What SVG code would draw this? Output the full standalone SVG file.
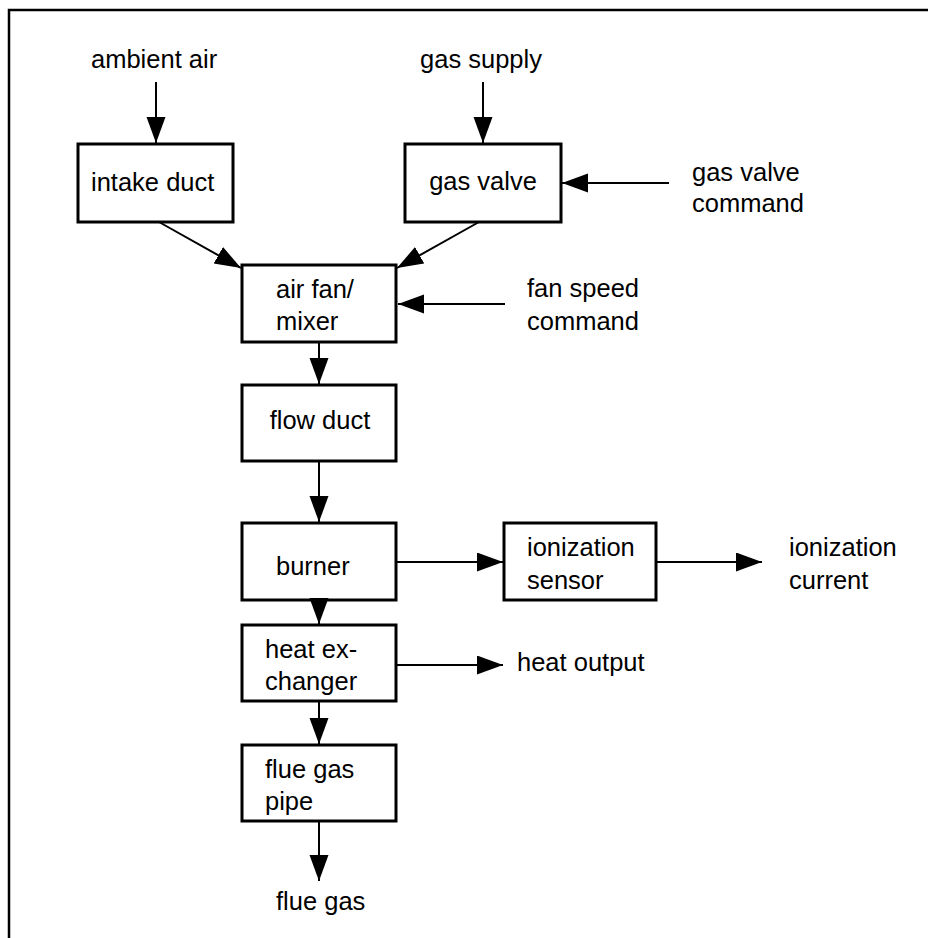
<svg xmlns="http://www.w3.org/2000/svg" width="928" height="938" viewBox="0 0 928 938">
<defs>
<marker id="ah" markerUnits="userSpaceOnUse" markerWidth="28" markerHeight="20" refX="26" refY="9.5" orient="auto">
<path d="M0,0 L26,9.5 L0,19 z" fill="#000"/>
</marker>
<style>
text{font-family:"Liberation Sans",Arial,sans-serif;font-size:25.5px;fill:#000}
.box{fill:#fff;stroke:#000;stroke-width:3}
.c{stroke:#000;stroke-width:2;fill:none;marker-end:url(#ah)}
.m{text-anchor:middle}
</style>
</defs>
<rect width="928" height="938" fill="#fff"/>
<path d="M9,938 V10 H928" fill="none" stroke="#000" stroke-width="2.5"/>
<g id="labels">
<text x="91" y="68">ambient air</text>
<text x="481" y="68" class="m">gas supply</text>
<text x="692" y="181">gas valve</text>
<text x="692" y="212">command</text>
<text x="527" y="297">fan speed</text>
<text x="527" y="330">command</text>
<text x="789" y="556">ionization</text>
<text x="789" y="589">current</text>
<text x="517" y="671">heat output</text>
<text x="276" y="910">flue gas</text>
</g>
<g id="intake-duct"><rect class="box" x="78" y="144" width="155" height="78"/><text x="91" y="191">intake duct</text></g>
<g id="gas-valve"><rect class="box" x="405" y="144" width="156" height="78"/><text x="483" y="190" class="m">gas valve</text></g>
<g id="air-fan-mixer"><rect class="box" x="242" y="265" width="154" height="77"/><text x="276" y="298">air fan/</text><text x="276" y="330">mixer</text></g>
<g id="flow-duct"><rect class="box" x="242" y="385" width="154" height="76"/><text x="320" y="429" class="m">flow duct</text></g>
<g id="burner"><rect class="box" x="242" y="523" width="154" height="77"/><text x="276" y="575">burner</text></g>
<g id="ionization-sensor"><rect class="box" x="504" y="523" width="152" height="77"/><text x="527" y="556">ionization</text><text x="527" y="589">sensor</text></g>
<g id="heat-exchanger"><rect class="box" x="242" y="625" width="154" height="76"/><text x="265" y="658">heat ex-</text><text x="265" y="690">changer</text></g>
<g id="flue-gas-pipe"><rect class="box" x="242" y="745" width="154" height="76"/><text x="265" y="778">flue gas</text><text x="265" y="810">pipe</text></g>
<g id="connectors">
<line class="c" x1="156" y1="82" x2="156" y2="143"/>
<line class="c" x1="483" y1="82" x2="483" y2="143"/>
<line class="c" x1="669" y1="183" x2="562" y2="183"/>
<line class="c" x1="159" y1="222" x2="241" y2="268"/>
<line class="c" x1="479" y1="222" x2="397" y2="268"/>
<line class="c" x1="505" y1="304" x2="398" y2="304"/>
<line class="c" x1="319" y1="342" x2="319" y2="384"/>
<line class="c" x1="319" y1="461" x2="319" y2="522"/>
<line class="c" x1="396" y1="562" x2="503" y2="562"/>
<line class="c" x1="656" y1="562" x2="762" y2="562"/>
<line class="c" x1="319" y1="600" x2="319" y2="624"/>
<line class="c" x1="396" y1="665" x2="503" y2="665"/>
<line class="c" x1="319" y1="701" x2="319" y2="744"/>
<line class="c" x1="319" y1="821" x2="319" y2="881"/>
</g>
</svg>
